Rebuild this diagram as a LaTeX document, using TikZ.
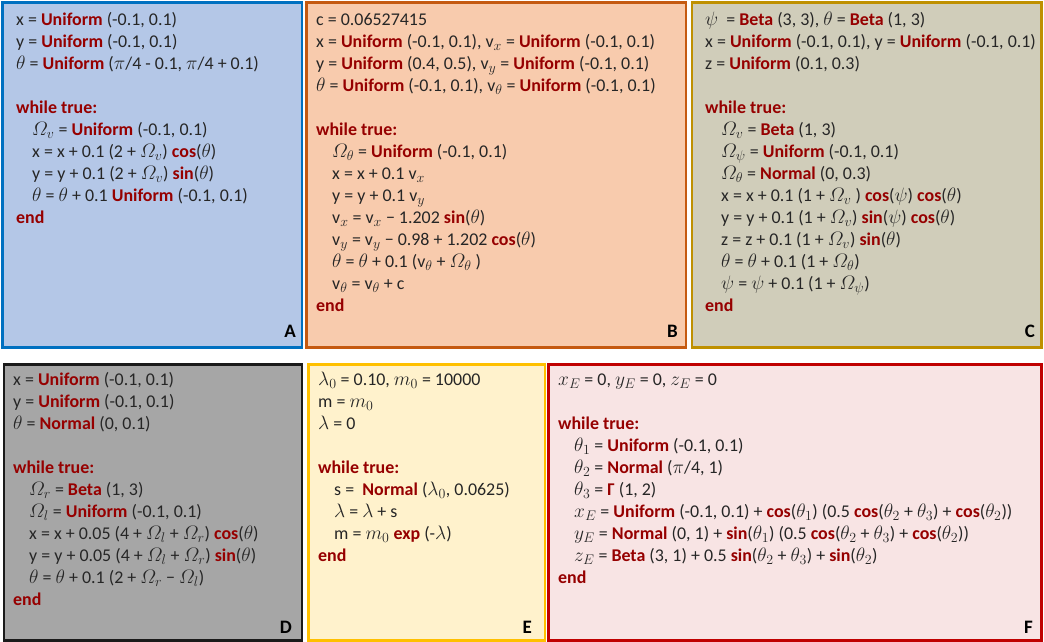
\RequirePackage{fix-cm}
\documentclass[tikz,border=0pt]{standalone}
\usepackage[no-math]{fontspec}
\setmainfont{Carlito}
\usetikzlibrary{matrix}
\DeclareMathSizes{18}{19.5}{14}{11}

\definecolor{kwred}{HTML}{960000}
\definecolor{codegray}{HTML}{262626}
\definecolor{afill}{HTML}{B4C7E7}
\definecolor{aline}{HTML}{0070C0}
\definecolor{bfill}{HTML}{F8CBAD}
\definecolor{bline}{HTML}{C55A11}
\definecolor{cfill}{HTML}{D0CDBA}
\definecolor{cline}{HTML}{BF9000}
\definecolor{dfill}{HTML}{A6A6A6}
\definecolor{dline}{HTML}{1A1A1A}
\definecolor{efill}{HTML}{FFF2CC}
\definecolor{eline}{HTML}{FFC000}
\definecolor{ffill}{HTML}{F8E4E4}
\definecolor{fline}{HTML}{C00000}

\newcommand{\kw}[1]{\textcolor{kwred}{\textbf{#1}}}
\newcommand{\indt}{\hspace*{16bp}}
\newcommand{\Om}{\mathnormal{\Omega}}

\tikzset{
  panel/.style={line width=2.5bp},
  code/.style={
    matrix of nodes,
    nodes in empty cells,
    anchor=north west,
    inner sep=0pt,
    row sep=0pt,
    nodes={
      anchor=base west,
      inner sep=0pt,
      outer sep=0pt,
      text height=16bp,
      text depth=6bp,
      text=codegray,
      font=\fontsize{18}{22bp}\selectfont
    }
  },
  tag/.style={anchor=base east, inner sep=0pt, text=black,
    font=\fontsize{19bp}{22bp}\selectfont\bfseries}
}

\begin{document}
\begin{tikzpicture}[x=1bp,y=-1bp]
  \useasboundingbox (0,0) rectangle (1044,642);

  % panels
  \draw[panel, draw=aline, fill=afill] (2.5,2.5) rectangle (302,347.5);
  \draw[panel, draw=bline, fill=bfill] (306.5,2.5) rectangle (686,347.5);
  \draw[panel, draw=cline, fill=cfill] (692,2.5) rectangle (1041.5,347.5);
  \draw[panel, draw=dline, fill=dfill] (4,364.5) rectangle (302,640.5);
  \draw[panel, draw=eline, fill=efill] (308.5,364.5) rectangle (545,640.5);
  \draw[panel, draw=fline, fill=ffill] (548.5,364.5) rectangle (1041.5,640.5);

  % A
  \matrix (mA) [code] at (16,9) {
    x = \kw{Uniform} (-0.1, 0.1) \\
    y = \kw{Uniform} (-0.1, 0.1) \\
    $\theta$ = \kw{Uniform} ($\pi$/4 - 0.1, $\pi$/4 + 0.1) \\
    \\
    \kw{while true:} \\
    \indt $\Om_v$ = \kw{Uniform} (-0.1, 0.1) \\
    \indt x = x + 0.1 (2 + $\Om_v$) \kw{cos}($\theta$) \\
    \indt y = y + 0.1 (2 + $\Om_v$) \kw{sin}($\theta$) \\
    \indt $\theta$ = $\theta$ + 0.1 \kw{Uniform} (-0.1, 0.1) \\
    \kw{end} \\
  };

  % B
  \matrix (mB) [code] at (316,9) {
    c = 0.06527415 \\
    x = \kw{Uniform} (-0.1, 0.1), v$_x$ = \kw{Uniform} (-0.1, 0.1) \\
    y = \kw{Uniform} (0.4, 0.5), v$_y$ = \kw{Uniform} (-0.1, 0.1) \\
    $\theta$ = \kw{Uniform} (-0.1, 0.1), v$_\theta$ = \kw{Uniform} (-0.1, 0.1) \\
    \\
    \kw{while true:} \\
    \indt $\Om_\theta$ = \kw{Uniform} (-0.1, 0.1) \\
    \indt x = x + 0.1 v$_x$ \\
    \indt y = y + 0.1 v$_y$ \\
    \indt v$_x$ = v$_x$ − 1.202 \kw{sin}($\theta$) \\
    \indt v$_y$ = v$_y$ − 0.98 + 1.202 \kw{cos}($\theta$) \\
    \indt $\theta$ = $\theta$ + 0.1 (v$_\theta$ + $\Om_\theta$ ) \\
    \indt v$_\theta$ = v$_\theta$ + c \\
    \kw{end} \\
  };

  % C
  \matrix (mC) [code] at (705,9) {
    $\psi$\ \ = \kw{Beta} (3, 3), $\theta$ = \kw{Beta} (1, 3) \\
    x = \kw{Uniform} (-0.1, 0.1), y = \kw{Uniform} (-0.1, 0.1) \\
    z = \kw{Uniform} (0.1, 0.3) \\
    \\
    \kw{while true:} \\
    \indt $\Om_v$ = \kw{Beta} (1, 3) \\
    \indt $\Om_\psi$ = \kw{Uniform} (-0.1, 0.1) \\
    \indt $\Om_\theta$ = \kw{Normal} (0, 0.3) \\
    \indt x = x + 0.1 (1 + $\Om_v$ ) \kw{cos}($\psi$) \kw{cos}($\theta$) \\
    \indt y = y + 0.1 (1 + $\Om_v$) \kw{sin}($\psi$) \kw{cos}($\theta$) \\
    \indt z = z + 0.1 (1 + $\Om_v$) \kw{sin}($\theta$) \\
    \indt $\theta$ = $\theta$ + 0.1 (1 + $\Om_\theta$) \\
    \indt $\psi$ = $\psi$ + 0.1 (1 + $\Om_\psi$) \\
    \kw{end} \\
  };

  % D
  \matrix (mD) [code] at (13,369) {
    x = \kw{Uniform} (-0.1, 0.1) \\
    y = \kw{Uniform} (-0.1, 0.1) \\
    $\theta$ = \kw{Normal} (0, 0.1) \\
    \\
    \kw{while true:} \\
    \indt $\Om_r$ = \kw{Beta} (1, 3) \\
    \indt $\Om_l$ = \kw{Uniform} (-0.1, 0.1) \\
    \indt x = x + 0.05 (4 + $\Om_l$ + $\Om_r$) \kw{cos}($\theta$) \\
    \indt y = y + 0.05 (4 + $\Om_l$ + $\Om_r$) \kw{sin}($\theta$) \\
    \indt $\theta$ = $\theta$ + 0.1 (2 + $\Om_r$ − $\Om_l$) \\
    \kw{end} \\
  };

  % E
  \matrix (mE) [code] at (318,369) {
    $\lambda_0$ = 0.10, $m_0$ = 10000 \\
    m = $m_0$ \\
    $\lambda$ = 0 \\
    \\
    \kw{while true:} \\
    \indt s = \ \kw{Normal} ($\lambda_0$, 0.0625) \\
    \indt $\lambda$ = $\lambda$ + s \\
    \indt m = $m_0$ \kw{exp} (-$\lambda$) \\
    \kw{end} \\
  };

  % F
  \matrix (mF) [code] at (558,369) {
    $x_E$ = 0, $y_E$ = 0, $z_E$ = 0 \\
    \\
    \kw{while true:} \\
    \indt $\theta_1$ = \kw{Uniform} (-0.1, 0.1) \\
    \indt $\theta_2$ = \kw{Normal} ($\pi$/4, 1) \\
    \indt $\theta_3$ = \kw{Γ} (1, 2) \\
    \indt $x_E$ = \kw{Uniform} (-0.1, 0.1) + \kw{cos}($\theta_1$) (0.5 \kw{cos}($\theta_2$ + $\theta_3$) + \kw{cos}($\theta_2$)) \\
    \indt $y_E$ = \kw{Normal} (0, 1) + \kw{sin}($\theta_1$) (0.5 \kw{cos}($\theta_2$ + $\theta_3$) + \kw{cos}($\theta_2$)) \\
    \indt $z_E$ = \kw{Beta} (3, 1) + 0.5 \kw{sin}($\theta_2$ + $\theta_3$) + \kw{sin}($\theta_2$) \\
    \kw{end} \\
  };

  % panel letters
  \node (labA) [tag] at (296,337) {A};
  \node (labB) [tag] at (678,337) {B};
  \node (labC) [tag] at (1035,337) {C};
  \node (labD) [tag] at (292,633) {D};
  \node (labE) [tag] at (532,633) {E};
  \node (labF) [tag] at (1033,633) {F};
\end{tikzpicture}
\end{document}
